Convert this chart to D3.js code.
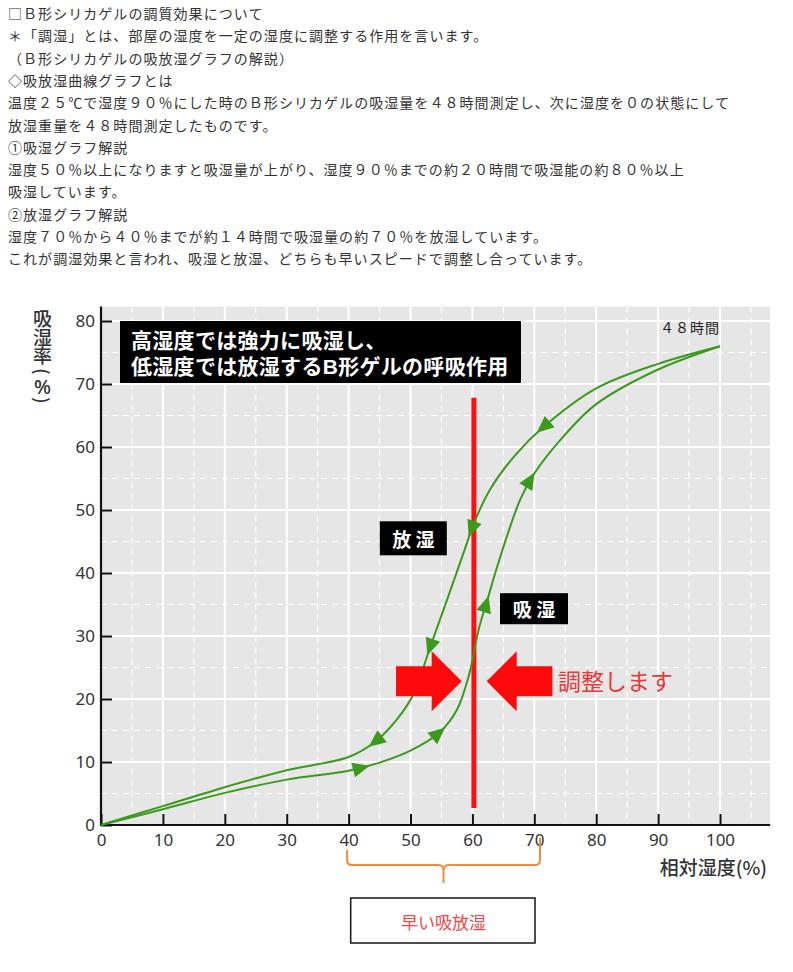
<!DOCTYPE html>
<html><head><meta charset="utf-8">
<script src="https://cdn.jsdelivr.net/npm/d3@7"></script>
<style>body{margin:0;background:#fff} svg{display:block}</style>
</head><body><svg id="c" width="793" height="972"></svg>
<script>
// ---------- data ----------
const introLines = [
  "□Ｂ形シリカゲルの調質効果について",
  "＊「調湿」とは、部屋の湿度を一定の湿度に調整する作用を言います。",
  "（Ｂ形シリカゲルの吸放湿グラフの解説）",
  "◇吸放湿曲線グラフとは",
  "温度２５℃で湿度９０％にした時のＢ形シリカゲルの吸湿量を４８時間測定し、次に湿度を０の状態にして",
  "放湿重量を４８時間測定したものです。",
  "①吸湿グラフ解説",
  "湿度５０％以上になりますと吸湿量が上がり、湿度９０％までの約２０時間で吸湿能の約８０％以上",
  "吸湿しています。",
  "②放湿グラフ解説",
  "湿度７０％から４０％までが約１４時間で吸湿量の約７０％を放湿しています。",
  "これが調湿効果と言われ、吸湿と放湿、どちらも早いスピードで調整し合っています。"
];
const titleLines = ["高湿度では強力に吸湿し、", "低湿度では放湿するB形ゲルの呼吸作用"];
const xTicks = [0, 10, 20, 30, 40, 50, 60, 70, 80, 90, 100];
const yTicks = [0, 10, 20, 30, 40, 50, 60, 70, 80];
const xAxisTitle = "相対湿度(%)";
const yAxisTitle = "吸湿率";

// absorption (吸湿) curve: humidity % -> absorption %
const absorbX = [0, 10, 20, 30, 40, 45, 50, 54.8, 57.5, 59.5, 61, 62.5, 64, 67.7, 70, 75, 80, 90, 100];
const absorbY = [0, 2.5, 5.1, 7.2, 8.6, 9.9, 11.8, 14.8, 18.3, 24, 31, 36, 41, 51.6, 55.8, 62, 66.8, 72.3, 76];
// release (放湿) curve
const releaseX = [0, 10, 20, 30, 40, 44.4, 48, 50.5, 53.2, 56, 58.5, 60.5, 63, 67, 71.5, 80, 90, 100];
const releaseY = [0, 3, 6, 8.7, 10.8, 13.3, 17, 20.8, 28.3, 36, 43, 48.5, 53.5, 58.8, 63.2, 69.3, 73.2, 76];
const absorbArrowX = [42, 54.5, 62.2, 69.3];
const releaseArrowX = [71.5, 59.9, 53.2, 44.4];

const controlX = 60;              // 調整 line
const controlYRange = [2.7, 67.8];
const arrowLevel = 22.8;          // y value of the red arrows
const braceRange = [40, 71];

// ---------- drawing ----------
const svg = d3.select("#c");
const jp = "'Noto Sans CJK JP','Noto Sans',sans-serif";
const green = "#3b9a1c";

svg.append("g").selectAll("text").data(introLines).join("text")
  .attr("x", 8).attr("y", (d, i) => 19 + i * 22.3)
  .attr("font-family", jp).attr("font-size", 14).attr("letter-spacing", 1.05)
  .attr("fill", "#333").text(d => d);

const x = d3.scaleLinear([0, 100], [101, 720]);
const y = d3.scaleLinear([0, 80], [825, 321]);
const xMax = 108.1, yMax = 82.3;

svg.append("rect").attr("x", x(0)).attr("y", y(yMax))
  .attr("width", x(xMax) - x(0)).attr("height", y(0) - y(yMax)).attr("fill", "#e6e6e6");

const grid = svg.append("g");
const minorX = d3.range(5, xMax, 10), minorY = d3.range(5, yMax, 10);
grid.selectAll(".mx").data(minorX).join("line")
  .attr("x1", d => x(d)).attr("x2", d => x(d)).attr("y1", y(yMax)).attr("y2", y(0))
  .attr("stroke", "#fff").attr("stroke-width", 1.2).attr("stroke-dasharray", "6,5");
grid.selectAll(".my").data(minorY).join("line")
  .attr("x1", x(0)).attr("x2", x(xMax)).attr("y1", d => y(d)).attr("y2", d => y(d))
  .attr("stroke", "#fff").attr("stroke-width", 1.2).attr("stroke-dasharray", "6,5");
grid.selectAll(".Mx").data(xTicks.slice(1)).join("line")
  .attr("x1", d => x(d)).attr("x2", d => x(d)).attr("y1", y(yMax)).attr("y2", y(0))
  .attr("stroke", "#fff").attr("stroke-width", 2);
grid.selectAll(".My").data(yTicks.slice(1)).join("line")
  .attr("x1", x(0)).attr("x2", x(xMax)).attr("y1", d => y(d)).attr("y2", d => y(d))
  .attr("stroke", "#fff").attr("stroke-width", 2);

// axes
const tickFont = "'Noto Sans','DejaVu Sans',sans-serif";
const xAxis = svg.append("g").attr("transform", `translate(0,${y(0)})`)
  .call(d3.axisBottom(x).tickValues(xTicks).tickSizeInner(-11).tickSizeOuter(0).tickPadding(9));
const yAxis = svg.append("g").attr("transform", `translate(${x(0)},0)`)
  .call(d3.axisLeft(y).tickValues(yTicks).tickSizeInner(-11).tickSizeOuter(0).tickPadding(6));
[xAxis, yAxis].forEach(g => {
  g.select(".domain").remove();
  g.selectAll(".tick line").attr("stroke", "#111").attr("stroke-width", 2);
  g.selectAll(".tick text").attr("font-family", tickFont).attr("font-size", 17).attr("fill", "#333");
});
xAxis.selectAll(".tick text").attr("y", 9).attr("dy", "0.71em");
svg.append("line").attr("x1", x(0)).attr("x2", x(xMax)).attr("y1", y(0)).attr("y2", y(0))
  .attr("stroke", "#111").attr("stroke-width", 2.2);
svg.append("line").attr("x1", x(0)).attr("x2", x(0)).attr("y1", y(yMax)).attr("y2", y(0) + 1)
  .attr("stroke", "#111").attr("stroke-width", 2.2);

// axis titles
svg.append("text").attr("x", 767).attr("y", 875).attr("text-anchor", "end")
  .attr("font-family", jp).attr("font-size", 19).attr("font-weight", 500).attr("fill", "#333").text(xAxisTitle);
const yl = svg.append("g").attr("font-family", jp).attr("font-weight", 500).attr("fill", "#333");
yl.append("text").attr("x", 42.5).attr("y", 309.5).attr("writing-mode", "vertical-rl")
  .attr("font-size", 19).attr("letter-spacing", -0.5).text(yAxisTitle);
yl.append("text").attr("transform", "translate(42.5,371.5) rotate(90)")
  .attr("text-anchor", "middle").attr("dominant-baseline", "central").attr("font-size", 18).text("(");
yl.append("text").attr("x", 42.5).attr("y", 386.5)
  .attr("text-anchor", "middle").attr("dominant-baseline", "central").attr("font-family", tickFont).attr("font-size", 20).text("%");
yl.append("text").attr("transform", "translate(42.5,400.5) rotate(90)")
  .attr("text-anchor", "middle").attr("dominant-baseline", "central").attr("font-size", 18).text(")");

// title box
svg.append("rect").attr("x", 120).attr("y", 321).attr("width", 401).attr("height", 62).attr("fill", "#000");
svg.append("g").selectAll("text").data(titleLines).join("text")
  .attr("x", 131).attr("y", (d, i) => 348 + i * 26)
  .attr("font-family", "'Liberation Sans','Noto Sans CJK JP',sans-serif")
  .attr("font-size", 21).attr("font-weight", 700).attr("letter-spacing", 0.3)
  .attr("fill", "#fff").text(d => d);

svg.append("text").attr("x", 720).attr("y", 333).attr("text-anchor", "end")
  .attr("font-family", jp).attr("font-size", 14).attr("letter-spacing", 1).attr("fill", "#222").text("４８時間");

// control (red) line
svg.append("line").attr("x1", x(controlX) + 1.5).attr("x2", x(controlX) + 1.5)
  .attr("y1", y(controlYRange[1])).attr("y2", y(controlYRange[0]))
  .attr("stroke", "#ff1010").attr("stroke-width", 5);

// curves
const line = d3.line().x(d => x(d[0])).y(d => y(d[1])).curve(d3.curveCatmullRom.alpha(0.5));
function drawCurve(xs, ys, arrowXs, reverse) {
  const pts = xs.map((v, i) => [v, ys[i]]);
  const path = svg.append("path").attr("d", line(pts)).attr("fill", "none")
    .attr("stroke", green).attr("stroke-width", 2);
  const node = path.node(), L = node.getTotalLength();
  arrowXs.forEach(ax => {
    const tx = x(ax);
    let lo = 0, hi = L;
    for (let k = 0; k < 40; k++) {
      const mid = (lo + hi) / 2;
      if (node.getPointAtLength(mid).x < tx) lo = mid; else hi = mid;
    }
    const s = (lo + hi) / 2;
    const p = node.getPointAtLength(s);
    const a = node.getPointAtLength(Math.max(0, s - 1)), b = node.getPointAtLength(Math.min(L, s + 1));
    let ang = Math.atan2(b.y - a.y, b.x - a.x) * 180 / Math.PI;
    if (reverse) ang += 180;
    svg.append("path").attr("d", "M9,0 L-8,-7.5 L-8,7.5 Z").attr("fill", green)
      .attr("transform", `translate(${p.x},${p.y}) rotate(${ang})`);
  });
}
drawCurve(absorbX, absorbY, absorbArrowX, false);
drawCurve(releaseX, releaseY, releaseArrowX, true);

// labels 放湿 / 吸湿
function tag(cx, cy, w, h, txt) {
  svg.append("rect").attr("x", cx - w / 2).attr("y", cy - h / 2).attr("width", w).attr("height", h).attr("fill", "#000");
  svg.append("text").attr("x", cx).attr("y", cy).attr("text-anchor", "middle").attr("dominant-baseline", "central")
    .attr("font-family", jp).attr("font-size", 19).attr("font-weight", 700).attr("fill", "#fff").text(txt);
}
tag(413.3, 538.3, 67, 34, "放 湿");
tag(534, 608.7, 68, 31, "吸 湿");

// red arrows toward the control line
const cx = x(controlX), cy = y(arrowLevel);
const rightArrow = [[-76.4, -15], [-40.7, -15], [-40.7, -30], [-10.7, 0], [-40.7, 30], [-40.7, 15], [-76.4, 15]];
const leftArrow = rightArrow.map(([dx, dy]) => [-dx + 3.6, dy]);
[rightArrow, leftArrow].forEach(pts => {
  svg.append("polygon").attr("points", pts.map(([dx, dy]) => `${cx + dx},${cy + dy}`).join(" ")).attr("fill", "#ff0a0a");
});
svg.append("text").attr("x", 558).attr("y", 690).attr("font-family", jp).attr("font-size", 23)
  .attr("fill", "#e63a3a").text("調整します");

// brace
const bl = x(braceRange[0]) - 1.5, br = x(braceRange[1]) - 0.5, bm = (bl + br) / 2, by = 865;
const bp = d3.path();
bp.moveTo(bl, 850); bp.lineTo(bl, by - 5); bp.quadraticCurveTo(bl, by, bl + 5, by);
bp.lineTo(bm - 5, by); bp.quadraticCurveTo(bm, by, bm, by + 6); bp.lineTo(bm, 883);
bp.moveTo(bm, by + 6); bp.quadraticCurveTo(bm, by, bm + 5, by); bp.lineTo(br - 5, by);
bp.quadraticCurveTo(br, by, br, by - 5); bp.lineTo(br, 838);
svg.append("path").attr("d", bp.toString()).attr("fill", "none").attr("stroke", "#f08a3c").attr("stroke-width", 2);

svg.append("rect").attr("x", 350.7).attr("y", 898).attr("width", 184.3).attr("height", 45)
  .attr("fill", "#fff").attr("stroke", "#222").attr("stroke-width", 1.6);
svg.append("text").attr("x", bm).attr("y", 921).attr("text-anchor", "middle").attr("dominant-baseline", "central")
  .attr("font-family", jp).attr("font-size", 17).attr("fill", "#f04848").text("早い吸放湿");
</script></body></html>
